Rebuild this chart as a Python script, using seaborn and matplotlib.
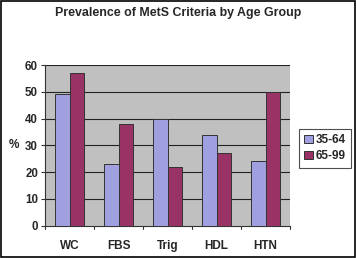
import matplotlib
matplotlib.use("Agg")
import matplotlib.pyplot as plt
import seaborn as sns
import pandas as pd
from matplotlib.patches import Rectangle

categories = ["WC", "FBS", "Trig", "HDL", "HTN"]
group_young = [49, 23, 40, 34, 24]
group_old = [57, 38, 22, 27, 50]
series_names = ["35-64", "65-99"]
yticks = [0, 10, 20, 30, 40, 50, 60]

df = pd.DataFrame({
    "cat": categories * 2,
    "val": group_young + group_old,
    "grp": [series_names[0]] * 5 + [series_names[1]] * 5,
})

sns.set_theme(style="white")
plt.rcParams["font.family"] = ["Liberation Sans", "DejaVu Sans"]

fig = plt.figure(figsize=(3.56, 2.58), dpi=100)
ax = fig.add_axes([45/356, 1-225.7/258, 245/356, 160.7/258])
ax.set_facecolor("#c0c0c0")

sns.barplot(data=df, x="cat", y="val", hue="grp", ax=ax,
            palette=["#a0a0e0", "#993366"], width=0.58,
            edgecolor="#333333", linewidth=0.7, saturation=1, zorder=3)

ax.set_ylim(0, 60)
ax.set_xlim(-0.5, 4.5)
ax.set_yticks(yticks)
ax.set_yticklabels([str(t) for t in yticks], fontsize=8.3, fontweight="bold")
ax.set_xticks(range(5))
ax.set_xticklabels(categories, fontsize=8.5, fontweight="bold")
ax.tick_params(axis="x", length=0, pad=10)
ax.tick_params(axis="y", length=3, width=0.8, color="#333333", pad=2, direction="out", left=True)
for xb in [0.5, 1.5, 2.5, 3.5, 4.5]:
    ax.plot([xb, xb], [0, -1.2], color="#333333", lw=0.8, clip_on=False)
ax.plot([-0.5, -0.5], [0, -1.2], color="#333333", lw=0.8, clip_on=False)
for t in yticks[1:]:
    ax.axhline(t, color="#222222", lw=0.8, zorder=1)
ax.set_xlabel("")
ax.set_ylabel("%", rotation=0, fontsize=8.5, fontweight="bold", labelpad=8, va="center")
for side in ["top", "right"]:
    ax.spines[side].set_visible(False)
ax.spines["left"].set_color("#333333")
ax.spines["bottom"].set_color("#333333")
ax.spines["left"].set_linewidth(0.8)
ax.spines["bottom"].set_linewidth(0.8)
ax.spines["left"].set_zorder(4)

leg = ax.legend(loc="upper left", bbox_to_anchor=((299-45)/245, (225.7-129)/160.7),
                fontsize=8.5, frameon=True, fancybox=False, edgecolor="#222222",
                handlelength=0.7, handleheight=0.7, handletextpad=0.3, borderpad=0.45,
                labelspacing=0.35, borderaxespad=0)
for t in leg.get_texts():
    t.set_fontweight("bold")
leg.get_frame().set_linewidth(0.8)

fig.text(0.5, 1-13/258, "Prevalence of MetS Criteria by Age Group", ha="center", va="center",
         fontsize=8.9, fontweight="bold")
fig.patches.append(Rectangle((0.002, 0.002), 0.996, 0.996, transform=fig.transFigure,
                             fill=False, edgecolor="black", lw=1.2))
fig.savefig("out.png", dpi=100)
